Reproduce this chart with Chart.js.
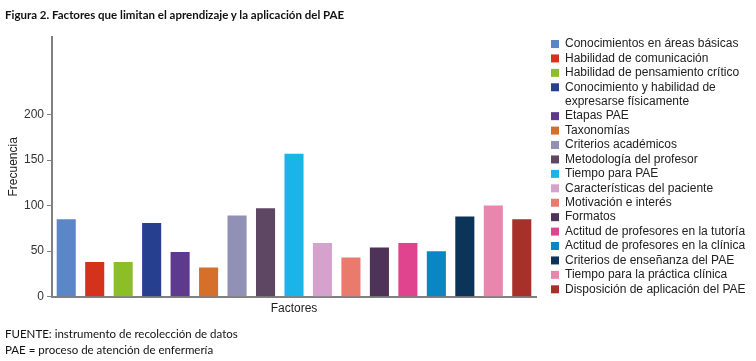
<!DOCTYPE html>
<html><head><meta charset="utf-8">
<script src="https://cdn.jsdelivr.net/npm/chart.js@4/dist/chart.umd.min.js"></script>
<style>
html,body{margin:0;padding:0;background:#fff;}
#wrap{position:relative;width:756px;height:361px;}
#title{position:absolute;left:5px;top:8px;font:bold 11.5px Lato,"Liberation Sans",sans-serif;color:#111;white-space:nowrap;}
.foot{position:absolute;left:5px;font:11.5px Lato,"Liberation Sans",sans-serif;color:#111;white-space:nowrap;}
canvas{position:absolute;left:0;top:0;}
</style></head><body>
<div id="wrap">
<canvas id="c" width="756" height="361"></canvas>
<div id="title">Figura 2. Factores que limitan el aprendizaje y la aplicación del PAE</div>
<div class="foot" style="top:327px">FUENTE: instrumento de recolección de datos</div>
<div class="foot" style="top:343px">PAE = proceso de atención de enfermería</div>
</div>
<script>
const categories = [
  "Conocimientos en áreas básicas",
  "Habilidad de comunicación",
  "Habilidad de pensamiento crítico",
  ["Conocimiento y habilidad de", "expresarse físicamente"],
  "Etapas PAE",
  "Taxonomías",
  "Criterios académicos",
  "Metodología del profesor",
  "Tiempo para PAE",
  "Características del paciente",
  "Motivación e interés",
  "Formatos",
  "Actitud de profesores en la tutoría",
  "Actitud de profesores en la clínica",
  "Criterios de enseñanza del PAE",
  "Tiempo para la práctica clínica",
  "Disposición de aplicación del PAE"
];
const frecuencia = [85, 38, 38, 81, 49, 32, 89, 97, 157, 59, 43, 54, 59, 50, 88, 100, 85];
const colors = ["#5b87c9","#d4321c","#8cbf26","#263f8f","#5e3a8e","#d66f2a","#9091b5","#5d4762",
  "#1ab4e8","#d4a2cc","#ea7a6b","#4e3257","#e0448f","#0a86c5","#0c3458","#e886ad","#a8302a"];
const yTicks = [0, 50, 100, 150, 200];
const yMax = 285;

const legendPlugin = {
  id: 'sideLegend',
  afterDraw(chart) {
    const ctx = chart.ctx;
    ctx.save();
    ctx.font = '12px "Liberation Sans", Arial, sans-serif';
    ctx.textBaseline = 'middle';
    ctx.textAlign = 'left';
    let y = 44;
    const step = 14.43;
    categories.forEach((lab, i) => {
      const lines = Array.isArray(lab) ? lab : [lab];
      ctx.fillStyle = colors[i];
      ctx.fillRect(551, y - 4, 8, 8);
      ctx.fillStyle = '#222';
      lines.forEach((ln, j) => ctx.fillText(ln, 565, y + j * step));
      y += lines.length * step;
    });
    ctx.restore();
  }
};

new Chart(document.getElementById('c'), {
  type: 'bar',
  data: {
    labels: categories,
    datasets: [{ data: frecuencia, backgroundColor: colors, barPercentage: 0.67, categoryPercentage: 1 }]
  },
  options: {
    responsive: false,
    animation: false,
    layout: { padding: { left: 0, top: 37, right: 220, bottom: 0 } },
    plugins: { legend: { display: false }, tooltip: { enabled: false } },
    scales: {
      x: {
        grid: { display: false, drawTicks: false },
        border: { color: '#808080', width: 2 },
        ticks: { display: false },
        title: { display: true, text: 'Factores', color: '#222',
          font: { family: '"Liberation Sans", Arial, sans-serif', size: 12 },
          padding: { top: 0, bottom: 45 } },
        afterFit(s) { s.height = 64.3; }
      },
      y: {
        min: 0, max: yMax,
        grid: { drawOnChartArea: false, tickLength: 5, color: '#808080' },
        border: { color: '#808080', width: 2 },
        ticks: { color: '#333', padding: 3, font: { family: '"Liberation Sans", Arial, sans-serif', size: 12 } },
        afterBuildTicks(s) { s.ticks = yTicks.map(v => ({ value: v })); },
        title: { display: true, text: 'Frecuencia', color: '#222',
          font: { family: '"Liberation Sans", Arial, sans-serif', size: 12 },
          padding: { top: 6, bottom: 6 } },
        afterFit(s) { s.width = 52; }
      }
    }
  },
  plugins: [legendPlugin]
});
</script>
</body></html>
